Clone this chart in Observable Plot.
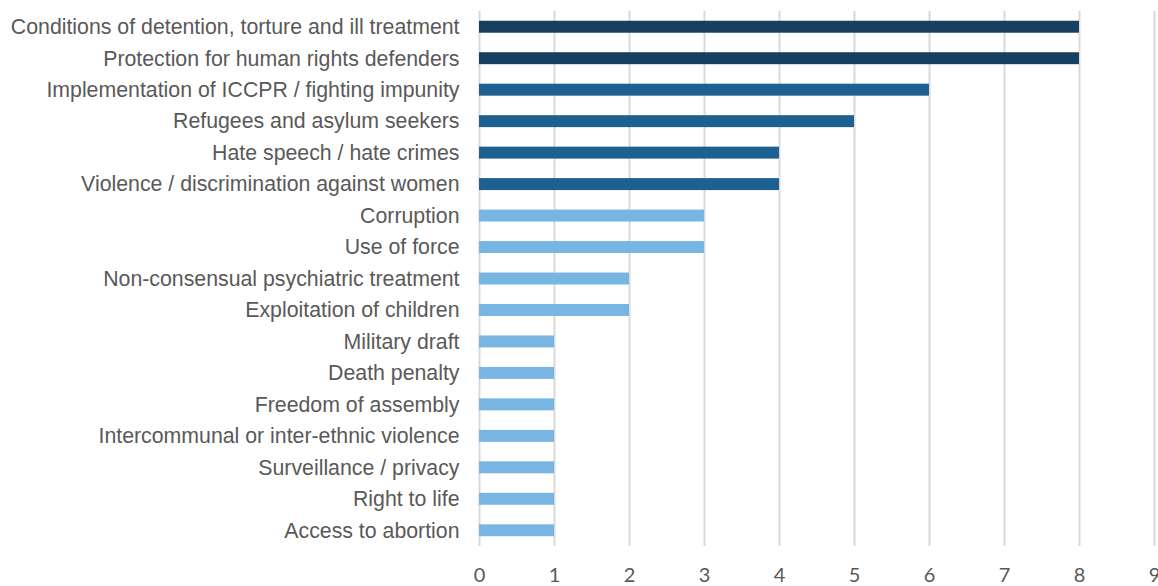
<!DOCTYPE html>
<html>
<head>
<meta charset="utf-8">
<script src="https://cdn.jsdelivr.net/npm/d3@7"></script>
<script src="https://cdn.jsdelivr.net/npm/@observablehq/plot@0.6"></script>
<style>
  html, body { margin: 0; padding: 0; background: #fff; }
  #chart { width: 1158px; height: 586px; overflow: hidden; }
</style>
</head>
<body>
<div id="chart"></div>
<script>
const categories = [
  "Conditions of detention, torture and ill treatment",
  "Protection for human rights defenders",
  "Implementation of ICCPR / fighting impunity",
  "Refugees and asylum seekers",
  "Hate speech / hate crimes",
  "Violence / discrimination against women",
  "Corruption",
  "Use of force",
  "Non-consensual psychiatric treatment",
  "Exploitation of children",
  "Military draft",
  "Death penalty",
  "Freedom of assembly",
  "Intercommunal or inter-ethnic violence",
  "Surveillance / privacy",
  "Right to life",
  "Access to abortion"
];
const values = [8, 8, 6, 5, 4, 4, 3, 3, 2, 2, 1, 1, 1, 1, 1, 1, 1];
const xTicks = [0, 1, 2, 3, 4, 5, 6, 7, 8, 9];

const data = categories.map((c, i) => ({category: c, value: values[i]}));
const colorFor = v => v >= 8 ? "#173f5f" : v >= 4 ? "#1d6193" : "#78b5e3";

const chart = Plot.plot({
  width: 1158,
  height: 586,
  marginLeft: 479,
  marginRight: 4,
  marginTop: 11,
  marginBottom: 40,
  style: {fontFamily: "'Liberation Sans', Arial, sans-serif", background: "#fff"},
  x: {domain: [0, 9]},
  y: {domain: categories, paddingInner: 0.62, paddingOuter: 0.31, round: false},
  marks: [
    Plot.ruleX(xTicks, {stroke: "#d9d9d9", strokeWidth: 2}),
    Plot.barX(data, {y: "category", x: "value", fill: d => colorFor(d.value)}),
    Plot.axisY({tickSize: 0, tickPadding: 20, fontSize: 21.3, fill: "#595959", label: null,
      fontFamily: "'Liberation Sans', Arial, sans-serif"}),
    Plot.axisX({ticks: xTicks, tickSize: 0, tickPadding: 21, fontSize: 20, fill: "#595959",
      fontFamily: "Lato, 'Open Sans', sans-serif", label: null})
  ]
});
document.getElementById("chart").appendChild(chart);
</script>
</body>
</html>
